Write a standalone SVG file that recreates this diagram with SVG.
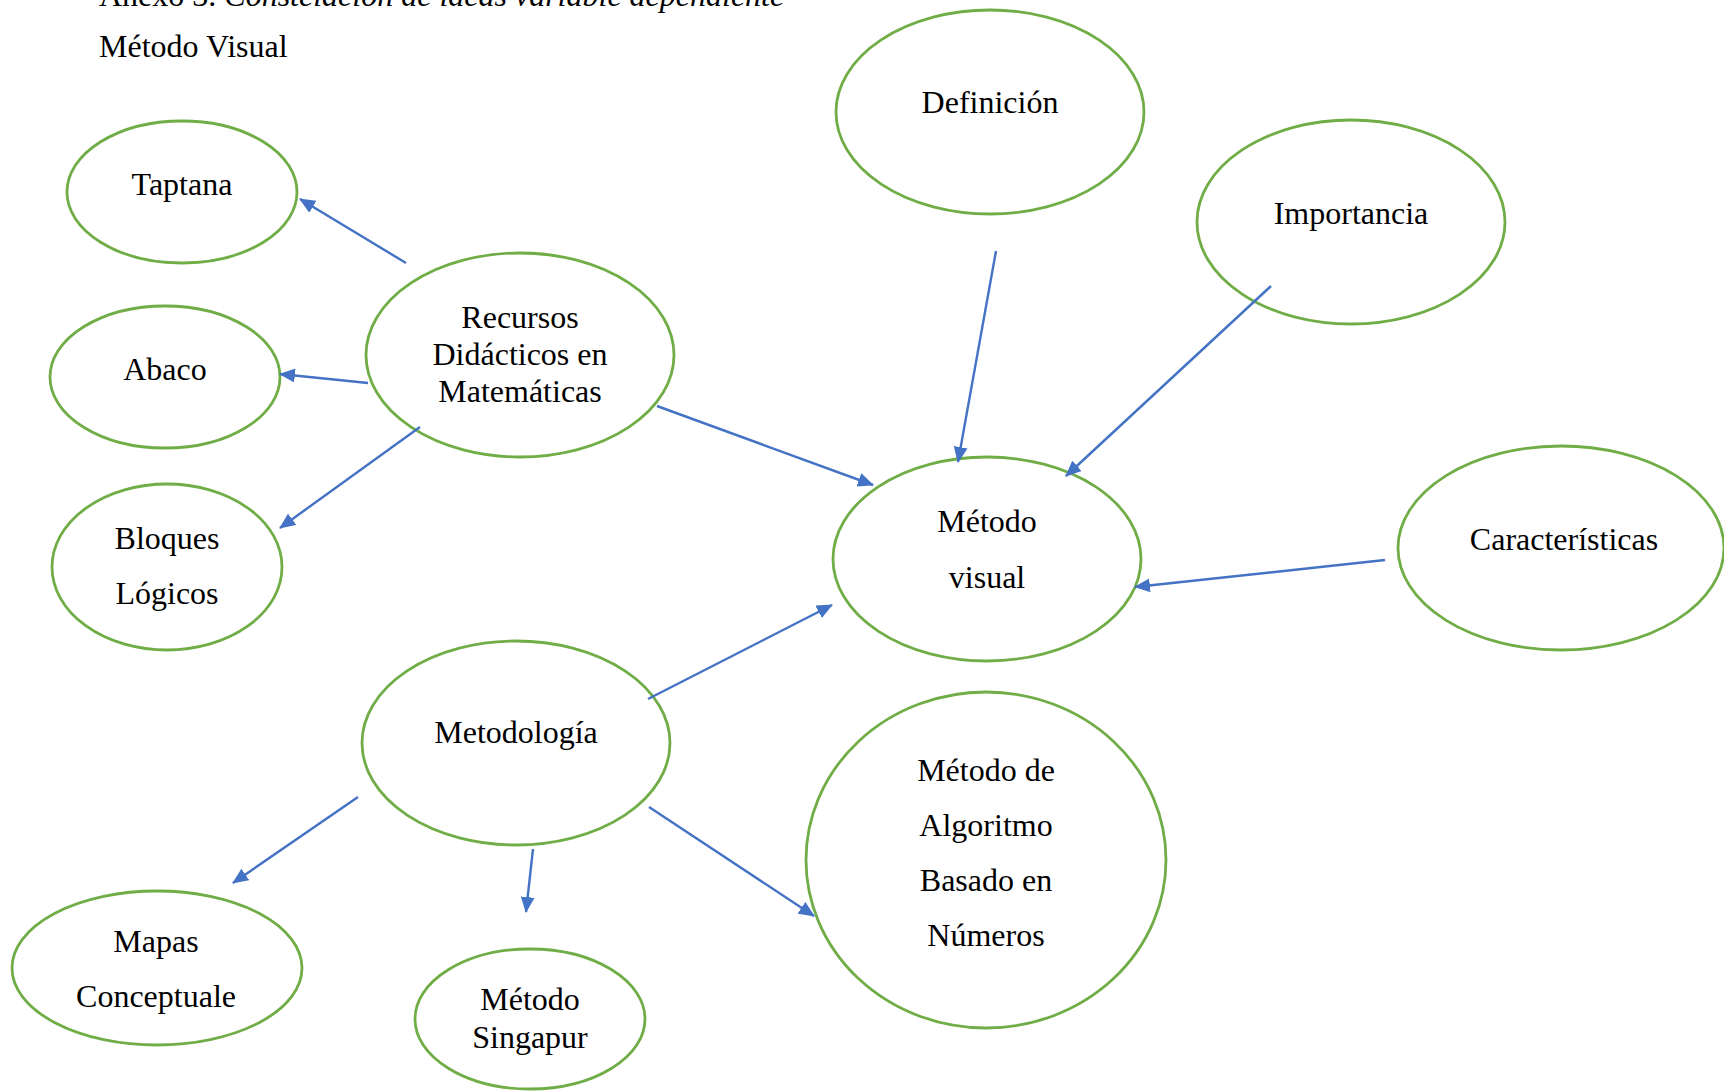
<svg xmlns="http://www.w3.org/2000/svg" width="1724" height="1091" viewBox="0 0 1724 1091">
<style>
.n{fill:#fff;stroke:#70AD47;stroke-width:2.8}
.t{font-family:"Liberation Serif","Times New Roman",serif;font-size:32px;fill:#000;text-anchor:middle}
.h{font-family:"Liberation Serif","Times New Roman",serif;font-size:32px;fill:#000}
.c{stroke:#4472C4;stroke-width:2.4;fill:none;marker-end:url(#a)}
</style>
<defs>
<marker id="a" viewBox="0 0 16 14" refX="15" refY="7" markerWidth="16" markerHeight="14" markerUnits="userSpaceOnUse" orient="auto">
<path d="M0,0 L16,7 L0,14 z" fill="#4472C4"/>
</marker>
</defs>
<rect width="1724" height="1091" fill="#fff"/>
<text class="h" x="99" y="6">Anexo 3. <tspan font-style="italic">Constelación de ideas variable dependiente</tspan></text>
<text class="h" x="99" y="57">Método Visual</text>

<g id="taptana"><ellipse class="n" cx="182" cy="192" rx="115" ry="71"/><text class="t" x="182" y="195">Taptana</text></g>
<g id="abaco"><ellipse class="n" cx="165" cy="377" rx="115" ry="71"/><text class="t" x="165" y="380">Abaco</text></g>
<g id="bloques"><ellipse class="n" cx="167" cy="567" rx="115" ry="83"/><text class="t" x="167" y="549">Bloques</text><text class="t" x="167" y="604">Lógicos</text></g>
<g id="recursos"><ellipse class="n" cx="520" cy="355" rx="154" ry="102"/><text class="t" x="520" y="328">Recursos</text><text class="t" x="520" y="365">Didácticos en</text><text class="t" x="520" y="402">Matemáticas</text></g>
<g id="definicion"><ellipse class="n" cx="990" cy="112" rx="154" ry="102"/><text class="t" x="990" y="113">Definición</text></g>
<g id="importancia"><ellipse class="n" cx="1351" cy="222" rx="154" ry="102"/><text class="t" x="1351" y="224">Importancia</text></g>
<g id="metodo-visual"><ellipse class="n" cx="987" cy="559" rx="154" ry="102"/><text class="t" x="987" y="532">Método</text><text class="t" x="987" y="588">visual</text></g>
<g id="caracteristicas"><ellipse class="n" cx="1561" cy="548" rx="163" ry="102"/><text class="t" x="1564" y="550">Características</text></g>
<g id="metodologia"><ellipse class="n" cx="516" cy="743" rx="154" ry="102"/><text class="t" x="516" y="743">Metodología</text></g>
<g id="algoritmo"><ellipse class="n" cx="986" cy="860" rx="180" ry="168"/><text class="t" x="986" y="781">Método de</text><text class="t" x="986" y="836">Algoritmo</text><text class="t" x="986" y="891">Basado en</text><text class="t" x="986" y="946">Números</text></g>
<g id="mapas"><ellipse class="n" cx="157" cy="968" rx="145" ry="77"/><text class="t" x="156" y="952">Mapas</text><text class="t" x="156" y="1007">Conceptuale</text></g>
<g id="singapur"><ellipse class="n" cx="530" cy="1019" rx="115" ry="70"/><text class="t" x="530" y="1010">Método</text><text class="t" x="530" y="1048">Singapur</text></g>

<g id="connectors">
<line class="c" x1="406" y1="263" x2="300" y2="199"/>
<line class="c" x1="368" y1="383" x2="280" y2="374"/>
<line class="c" x1="420" y1="427" x2="280" y2="528"/>
<line class="c" x1="657" y1="406" x2="873" y2="485"/>
<line class="c" x1="996" y1="251" x2="958" y2="462"/>
<line class="c" x1="1271" y1="286" x2="1066" y2="476"/>
<line class="c" x1="1385" y1="560" x2="1135" y2="587"/>
<line class="c" x1="648" y1="699" x2="832" y2="605"/>
<line class="c" x1="358" y1="797" x2="233" y2="883"/>
<line class="c" x1="533" y1="849" x2="526" y2="912"/>
<line class="c" x1="649" y1="807" x2="814" y2="916"/>
</g>
</svg>
